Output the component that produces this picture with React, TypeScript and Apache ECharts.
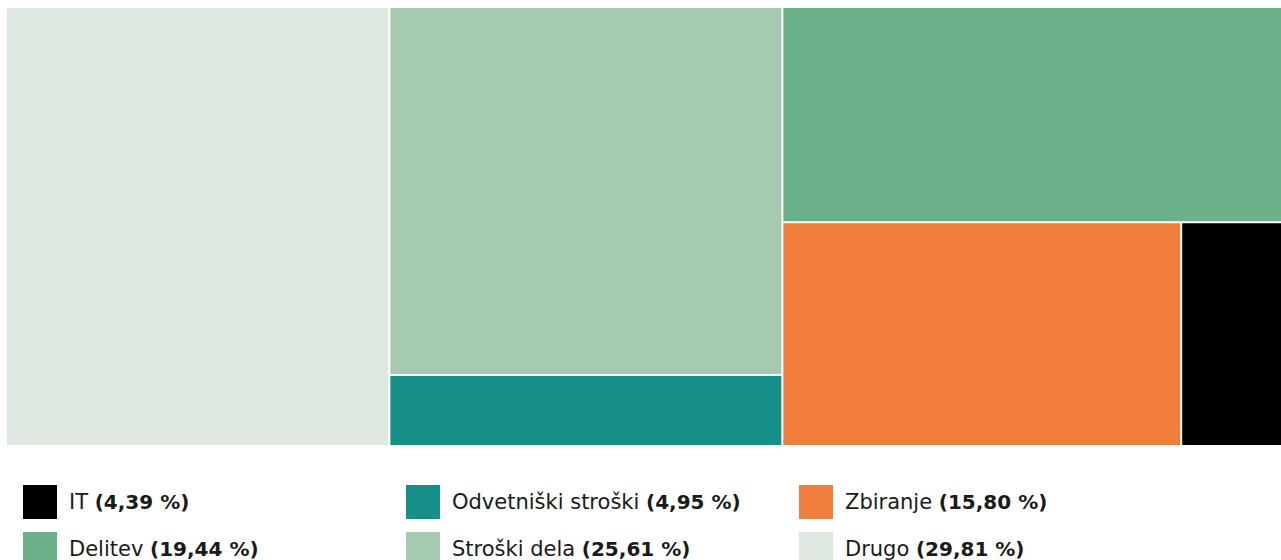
import React, { useEffect, useRef } from "react";
import * as echarts from "echarts";

// Data
const categories = ["IT", "Odvetniški stroški", "Zbiranje", "Delitev", "Stroški dela", "Drugo"];
const shares = [4.39, 4.95, 15.8, 19.44, 25.61, 29.81];
const colors = ["#000000", "#178f89", "#f27e3d", "#6bb089", "#a6cab0", "#dfe8e0"];

// Treemap grouping (indices into the arrays above)
const groupA = [5];
const groupB = [4, 1];
const groupC = [3];
const groupD = [2, 0];

// Legend order (rows of three)
const legendOrder = [0, 1, 2, 3, 4, 5];

const fmt = (v: number) => `(${v.toFixed(2).replace(".", ",")} %)`;

const leaf = (i: number) => ({
  name: categories[i],
  value: shares[i],
  itemStyle: { color: colors[i] },
});

export default function App() {
  const ref = useRef<HTMLDivElement>(null);

  useEffect(() => {
    if (!ref.current) return;
    const chart = echarts.init(ref.current, null, { renderer: "svg" });

    const data = [
      ...groupA.map(leaf),
      { name: "gB", children: groupB.map(leaf) },
      {
        name: "gC",
        children: [...groupC.map(leaf), { name: "gD", children: groupD.map(leaf) }],
      },
    ];

    const lvl = { itemStyle: { borderWidth: 0, gapWidth: 2, borderColor: "#ffffff" } };

    const colX = [23, 406, 799];
    const rowY = [485, 532];
    const graphics: any[] = [];
    legendOrder.forEach((idx, k) => {
      const col = k % 3;
      const row = Math.floor(k / 3);
      const x = colX[col];
      const y = rowY[row];
      graphics.push({
        type: "rect",
        left: x,
        top: y,
        shape: { width: 34, height: 34 },
        style: { fill: colors[idx] },
        silent: true,
      });
      graphics.push({
        type: "text",
        x: x + 46,
        y: y + 17,
        style: {
          text: `{r|${categories[idx]} }{b|${fmt(shares[idx])}}`,
          verticalAlign: "middle",
          rich: {
            r: {
              fontFamily: "DejaVu Sans",
              fontSize: 21,
              fontWeight: "normal",
              fill: "#1a1a1a",
            },
            b: {
              fontFamily: "DejaVu Sans",
              fontSize: 20,
              fontWeight: "bold",
              fill: "#1a1a1a",
            },
          },
        },
        silent: true,
      });
    });

    chart.setOption({
      animation: false,
      backgroundColor: "#ffffff",
      tooltip: { show: false },
      series: [
        {
          type: "treemap",
          left: 7,
          top: 8,
          width: 1284,
          height: 437,
          sort: null,
          roam: false,
          nodeClick: false,
          breadcrumb: { show: false },
          label: { show: false },
          upperLabel: { show: false },
          emphasis: { disabled: true },
          itemStyle: { borderWidth: 0, gapWidth: 2, borderColor: "#ffffff" },
          levels: [lvl, lvl, lvl, lvl],
          data,
        },
      ],
      graphic: graphics,
    });

    return () => chart.dispose();
  }, []);

  return (
    <div
      style={{
        position: "fixed",
        left: 0,
        top: 0,
        width: 1281,
        height: 560,
        overflow: "hidden",
        background: "#ffffff",
      }}
    >
      <div ref={ref} style={{ width: 1300, height: 560 }} />
    </div>
  );
}
